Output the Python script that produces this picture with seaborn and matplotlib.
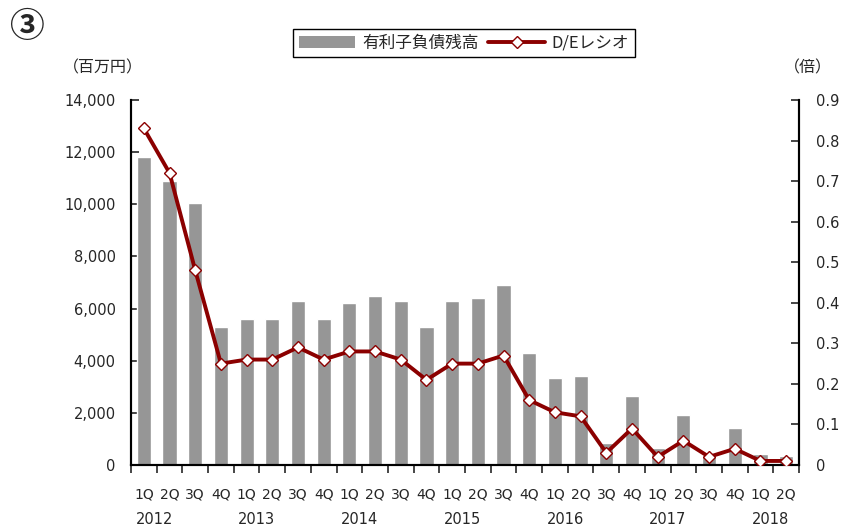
import numpy as np
import pandas as pd
import matplotlib.pyplot as plt
import seaborn as sns
from matplotlib.patches import Patch
from matplotlib.lines import Line2D
from matplotlib.ticker import FuncFormatter, FixedLocator
import matplotlib.transforms as mtransforms

sns.set_style('white')
plt.rcParams['font.family'] = ['DejaVu Sans', 'Noto Sans CJK JP']
plt.rcParams['font.size'] = 11

# data
quarters = ['1Q', '2Q', '3Q', '4Q'] * 6 + ['1Q', '2Q']
years = ['2012', '2013', '2014', '2015', '2016', '2017', '2018']
debt = [11800, 10900, 10050, 5300,
        5600, 5600, 6300, 5600,
        6200, 6500, 6300, 5300,
        6300, 6400, 6900, 4300,
        3350, 3400, 840, 2650,
        650, 1920, 400, 1420,
        420, 350]
de_ratio = [0.83, 0.72, 0.48, 0.25,
            0.26, 0.26, 0.29, 0.26,
            0.28, 0.28, 0.26, 0.21,
            0.25, 0.25, 0.27, 0.16,
            0.13, 0.12, 0.03, 0.09,
            0.02, 0.06, 0.02, 0.04,
            0.01, 0.01]

bar_color = '#969696'
line_color = '#8B0000'
jp = ['Noto Sans CJK JP', 'DejaVu Sans']

n = len(debt)
df = pd.DataFrame({'pos': np.arange(n), 'debt': debt, 'de': de_ratio})

fig = plt.figure(figsize=(8.41, 5.29), dpi=100)
ax = fig.add_axes([131 / 841, 1 - 465 / 529, 668 / 841, 365 / 529])

sns.barplot(data=df, x='pos', y='debt', color=bar_color, width=0.55,
            saturation=1, ax=ax, zorder=2)
ax.set_xlim(-0.5, n - 0.5)
ax.set_ylim(0, 14000)
ax.set_yticks(np.arange(0, 14001, 2000))
ax.yaxis.set_major_formatter(FuncFormatter(lambda v, p: f'{int(v):,}'))
ax.tick_params(axis='y', direction='in', length=6, width=1.2, pad=11,
               left=True, labelsize=10.5)
ax.set_xlabel('')
ax.set_ylabel('')

# quarter labels below axis, boundary ticks as minor ticks
ax.set_xticks(np.arange(n))
ax.set_xticklabels(quarters)
ax.xaxis.set_minor_locator(FixedLocator(np.arange(-0.5, n, 1.0)))
ax.tick_params(axis='x', which='major', length=0, pad=16, labelsize=10)
ax.tick_params(axis='x', which='minor', direction='out', length=6, width=1.2,
               bottom=True)

ax2 = ax.twinx()
sns.lineplot(data=df, x='pos', y='de', color=line_color, linewidth=2.8,
             marker='D', markersize=6.5, markerfacecolor='white',
             markeredgecolor=line_color, markeredgewidth=1.0, ax=ax2, zorder=5)
ax2.set_ylim(0, 0.9)
ax2.set_yticks(np.arange(0, 0.91, 0.1))
ax2.yaxis.set_major_formatter(
    FuncFormatter(lambda v, p: '0' if abs(v) < 1e-9 else f'{v:.1f}'))
ax2.tick_params(axis='y', direction='in', length=6, width=1.2, pad=12,
                right=True, labelsize=10.5)
ax2.set_ylabel('')
ax2.set_xlabel('')

for a in (ax, ax2):
    a.spines['top'].set_visible(False)
    for s in ('left', 'right', 'bottom'):
        a.spines[s].set_color('black')
        a.spines[s].set_linewidth(1.5)
    a.grid(False)

# year labels
trans = mtransforms.blended_transform_factory(ax.transData, fig.transFigure)
for i, yr in enumerate(years):
    ax.text(i * 4 + 0.4, 1 - 520 / 529, yr, transform=trans,
            ha='center', va='center', fontsize=10.5)

# unit labels and marker
fig.text(103 / 841, 1 - 68 / 529, '（百万円）', ha='center', va='center',
         fontsize=11.5, family=jp)
fig.text(808 / 841, 1 - 68 / 529, '（倍）', ha='center', va='center',
         fontsize=11.5, family=jp)
fig.text(26 / 841, 1 - 27 / 529, '③', ha='center', va='center', fontsize=25,
         fontweight='bold', family=jp)

handles = [Patch(facecolor=bar_color, edgecolor='none'),
           Line2D([0], [0], color=line_color, linewidth=2.8, marker='D',
                  markersize=6.5, markerfacecolor='white',
                  markeredgecolor=line_color)]
leg = fig.legend(handles, ['有利子負債残高', 'D/Eレシオ'], loc='center',
                 bbox_to_anchor=(464 / 841, 1 - 43 / 529), ncol=2,
                 frameon=True, fancybox=False, framealpha=1, edgecolor='black',
                 prop={'family': jp, 'size': 12}, handlelength=3.4,
                 columnspacing=0.6, handletextpad=0.4, borderpad=0.35)
leg.get_frame().set_linewidth(1.0)

fig.savefig('out.png', dpi=100)
